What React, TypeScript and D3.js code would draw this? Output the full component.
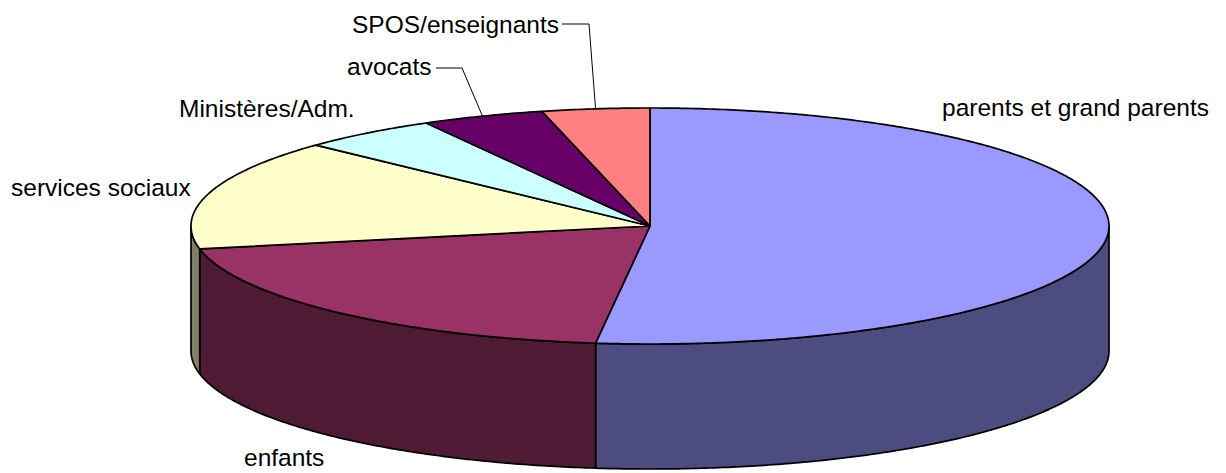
import React from "react";
import * as d3 from "d3";

const categories = [
  "parents et grand parents",
  "enfants",
  "services sociaux",
  "Ministères/Adm.",
  "avocats",
  "SPOS/enseignants",
];
const values = [96, 37, 28, 9, 8, 7];
const topColors = ["#9999FF", "#993366", "#FFFFCC", "#CCFFFF", "#660066", "#FF8080"];
const sideColors = ["#4C4C80", "#4F1A33", "#808066", "#668080", "#330033", "#804040"];

const W = 1226;
const H = 473;
const cx = 650;
const cy = 226;
const rx = 459;
const ry = 118;
const depth = 125;
const fontSize = 24.5;

// label text anchor (start, baseline) and optional leader elbow
const labelLayout = [
  { x: 942, y: 116 },
  { x: 244, y: 466 },
  { x: 11, y: 196 },
  { x: 179, y: 117 },
  { x: 347, y: 75, leader: { x0: 436, x1: 462, y: 68 } },
  { x: 352, y: 33, leader: { x0: 562, x1: 589, y: 24 } },
];

const pt = (t: number, dz = 0): [number, number] => [
  cx + rx * Math.sin(t),
  cy - ry * Math.cos(t) + dz,
];

const arcPts = (a: number, b: number, dz = 0) => {
  const n = Math.max(2, Math.ceil(Math.abs(b - a) / 0.01));
  return d3.range(n + 1).map((i) => pt(a + ((b - a) * i) / n, dz));
};

const lineGen = d3.line<[number, number]>();

export default function App() {
  const pie = d3
    .pie<number>()
    .sort(null)
    .startAngle(0)
    .endAngle(2 * Math.PI)(values);

  const walls = pie.map((s, i) => {
    const lo = Math.max(s.startAngle, Math.PI / 2);
    const hi = Math.min(s.endAngle, (3 * Math.PI) / 2);
    if (lo >= hi) return null;
    const pts = [...arcPts(lo, hi, 0), ...arcPts(hi, lo, depth)];
    return (
      <path
        key={"w" + i}
        d={lineGen(pts) + "Z"}
        fill={sideColors[i]}
        stroke="#000"
        strokeWidth={1.7}
        strokeLinejoin="round"
      />
    );
  });

  const tops = pie.map((s, i) => {
    const pts: [number, number][] = [[cx, cy], ...arcPts(s.startAngle, s.endAngle, 0)];
    return (
      <path
        key={"t" + i}
        d={lineGen(pts) + "Z"}
        fill={topColors[i]}
        stroke="#000"
        strokeWidth={1.7}
        strokeLinejoin="round"
      />
    );
  });

  const labels = pie.map((s, i) => {
    const L = labelLayout[i];
    const mid = (s.startAngle + s.endAngle) / 2;
    const end = pt(mid, 0);
    return (
      <g key={"l" + i}>
        {L.leader && (
          <path
            d={lineGen([
              [L.leader.x0, L.leader.y],
              [L.leader.x1, L.leader.y],
              end,
            ])!}
            fill="none"
            stroke="#000"
            strokeWidth={1}
          />
        )}
        <text
          x={L.x}
          y={L.y}
          fontFamily="'Liberation Sans', Arial, sans-serif"
          fontSize={fontSize}
          fill="#000"
        >
          {categories[i]}
        </text>
      </g>
    );
  });

  return (
    <svg
      width={W}
      height={H}
      viewBox={`0 0 ${W} ${H}`}
      style={{ position: "absolute", left: 0, top: 0, background: "#fff" }}
    >
      <rect width={W} height={H} fill="#fff" />
      {walls}
      {tops}
      {labels}
    </svg>
  );
}
